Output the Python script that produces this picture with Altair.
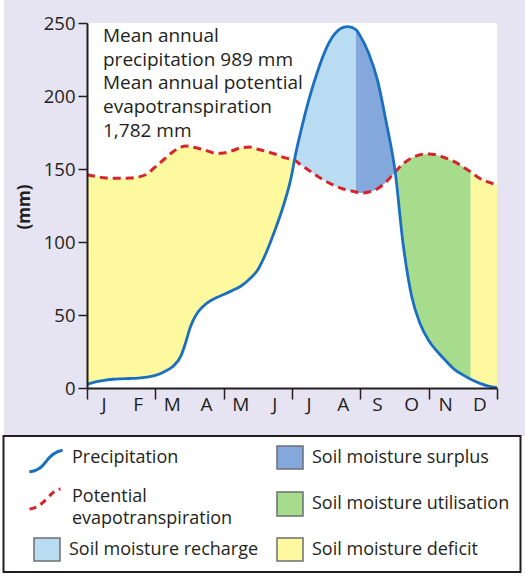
import altair as alt
import pandas as pd

# ---- data -------------------------------------------------------------
MONTH_LABELS = ["J", "F", "M", "A", "M", "J", "J", "A", "S", "O", "N", "D"]

# position along the year in months (0 = start of January, 12 = end of December)
MONTH_POS = [0, 0.25, 0.5, 0.75, 1, 1.25, 1.5, 1.75, 2, 2.25, 2.5, 2.75, 2.9, 3, 3.1,
             3.25, 3.5, 3.75, 4, 4.25, 4.5, 4.75, 5, 5.25, 5.5, 5.75, 6, 6.07, 6.25,
             6.5, 6.75, 7, 7.25, 7.5, 7.64, 7.87, 8, 8.25, 8.5, 8.75, 9.02, 9.25, 9.5,
             9.75, 10, 10.25, 10.5, 10.75, 11, 11.23, 11.5, 11.75, 12]

# precipitation (mm)
PRECIP = [2.5, 4.2, 5.3, 6.0, 6.3, 6.5, 6.8, 7.5, 8.6, 11, 14.5, 22, 32, 40, 46,
          52, 58, 61.5, 64, 66.7, 69.7, 74.5, 81, 93, 108, 125, 147, 156, 175,
          198, 217, 232.5, 242.5, 247, 247.5, 245.5, 241, 229, 211, 183, 148, 99, 63,
          44, 32.5, 25, 18.7, 12.8, 9, 6, 3.2, 1.3, 0.3]

# potential evapotranspiration (mm)
PET = [146, 145, 144, 143.7, 143.6, 143.8, 144.5, 146.5, 151.5, 156.5, 161.5, 165, 165.8, 165.5, 165,
       164.2, 162.6, 160.8, 161, 162.5, 164.5, 165, 163.5, 162, 160.3, 158, 156.5, 156, 153,
       149, 145, 141.5, 138.5, 136.3, 135.5, 134.3, 133.5, 134.3, 136.5, 141, 148, 153.5, 157.5,
       159.8, 160.3, 159.5, 157.5, 155, 151.5, 148, 143.5, 141, 139]

# where each soil-moisture phase begins (months)
RECHARGE_START = 6.07
SURPLUS_START = 7.87
UTILISATION_START = 9.02
DEFICIT_START = 11.23

NOTE_LINES = ["Mean annual", "precipitation 989 mm", "Mean annual potential",
              "evapotranspiration", "1,782 mm"]

Y_TICKS = [0, 50, 100, 150, 200, 250]

# ---- styling ----------------------------------------------------------
FONT = "Open Sans"
INK = "#231f20"
LAVENDER = "#e6e3f2"
YELLOW = "#fef99e"
LIGHT_BLUE = "#b9dcf3"
DARK_BLUE = "#84a8dc"
GREEN = "#a6dc8c"
LINE_BLUE = "#1b6fc0"
PET_RED = "#d8232c"

W, H = 410, 365

df = pd.DataFrame({"month": MONTH_POS, "precip": PRECIP, "pet": PET})
months_df = pd.DataFrame({"label": MONTH_LABELS,
                          "mid": [i + 0.5 for i in range(len(MONTH_LABELS))]})
one = alt.Data(values=[{}])

x_scale = alt.Scale(domain=[0, 12], nice=False, zero=False)
x_enc = alt.X(
    "month:Q", scale=x_scale,
    axis=alt.Axis(
        values=list(range(13)), labels=False, zindex=1,
        tickSize=11, tickWidth=1.5, tickColor=INK,
        domainColor=INK, domainWidth=2, grid=False, title=None,
    ),
)
y_axis = alt.Axis(
    values=Y_TICKS, labelFont=FONT, labelFontSize=18.5, labelColor=INK, zindex=1,
    labelPadding=3, tickSize=9, tickWidth=1.5, tickColor=INK,
    domainColor=INK, domainWidth=2, grid=False, title=None,
)
y_scale = alt.Scale(domain=[0, 250], nice=False)

base = alt.Chart(df)


def phase(lo, hi, color):
    """Fill between the two curves over one soil-moisture phase."""
    return (
        base.transform_filter((alt.datum.month >= lo) & (alt.datum.month <= hi))
        .mark_area(interpolate="monotone", color=color, opacity=1)
        .encode(x=x_enc, y=alt.Y("precip:Q", scale=y_scale, axis=y_axis), y2="pet:Q")
    )


def box(x1, x2, y1, y2, fill, stroke=None, width=0):
    kw = dict(fill=fill)
    if stroke:
        kw.update(stroke=stroke, strokeWidth=width)
    return alt.Chart(one).mark_rect(**kw).encode(
        x=alt.value(x1), x2=alt.value(x2), y=alt.value(y1), y2=alt.value(y2)
    )


def label(text, x, y, size=18, baseline="middle", **kw):
    return alt.Chart(one).mark_text(
        align="left", baseline=baseline, font=FONT, fontSize=size, color=INK, **kw
    ).encode(x=alt.value(x), y=alt.value(y), text=alt.value(text))


# backgrounds
panel = box(-83, 438, -23, 413, LAVENDER)
plot_bg = box(0, W, 0, H, "white")

areas = [
    phase(0, RECHARGE_START, YELLOW),
    phase(RECHARGE_START, SURPLUS_START, LIGHT_BLUE),
    phase(SURPLUS_START, UTILISATION_START, DARK_BLUE),
    phase(UTILISATION_START, DEFICIT_START, GREEN),
    phase(DEFICIT_START, 12, YELLOW),
]

pet_line = base.mark_line(
    interpolate="monotone", color=PET_RED, strokeWidth=3, strokeDash=[8, 5]
).encode(x=x_enc, y=alt.Y("pet:Q", scale=y_scale, axis=y_axis))

precip_line = base.mark_line(
    interpolate="monotone", color=LINE_BLUE, strokeWidth=2.8
).encode(x=x_enc, y=alt.Y("precip:Q", scale=y_scale, axis=y_axis))

month_text = alt.Chart(months_df).mark_text(
    font=FONT, fontSize=19, color=INK, align="center", baseline="middle"
).encode(x=alt.X("mid:Q", scale=x_scale), y=alt.value(H + 17), text="label:N")

y_title = alt.Chart(one).mark_text(
    font=FONT, fontSize=17, fontWeight="bold", color=INK, angle=270,
    align="center", baseline="middle",
).encode(x=alt.value(-62), y=alt.value(184), text=alt.value("(mm)"))

note = alt.Chart(one).mark_text(
    align="left", baseline="alphabetic", font=FONT, fontSize=19, color=INK,
    lineHeight=23.7,
).encode(x=alt.value(16), y=alt.value(19), text=alt.value(NOTE_LINES))

# legend
legend_frame = box(-83.5, 433.5, 413, 549, "white", INK, 2)

rain_glyph = alt.Chart(one).mark_point(
    shape="M -1 0.65 C -0.55 0.62 -0.3 0.45 -0.05 0.1 S 0.6 -0.6 1 -0.65",
    size=1100, filled=False, stroke=LINE_BLUE, strokeWidth=3, opacity=1,
).encode(x=alt.value(-41), y=alt.value(438))

pet_glyph = alt.Chart(one).mark_point(
    shape="M -1 0.65 C -0.5 0.6 -0.2 0.3 0.1 0 S 0.6 -0.6 1 -0.65",
    size=960, filled=False, stroke=PET_RED, strokeWidth=3, strokeDash=[7, 5], opacity=1,
).encode(x=alt.value(-42), y=alt.value(476))

swatch_stroke = "#6d6e71"
legend = [
    legend_frame,
    rain_glyph,
    label("Precipitation", -15, 435),
    pet_glyph,
    label(["Potential", "evapotranspiration"], -15, 479, baseline="alphabetic",
          lineHeight=22),
    box(-53, -27, 515, 538, LIGHT_BLUE, swatch_stroke, 1.5),
    label("Soil moisture recharge", -18, 527),
    box(190, 216, 423, 446, DARK_BLUE, swatch_stroke, 1.5),
    label("Soil moisture surplus", 225, 435),
    box(190, 216, 469, 493, GREEN, swatch_stroke, 1.5),
    label("Soil moisture utilisation", 225, 481),
    box(190, 216, 515, 538, YELLOW, swatch_stroke, 1.5),
    label("Soil moisture deficit", 225, 527),
]

chart = (
    alt.layer(panel, plot_bg, *areas, pet_line, precip_line, month_text,
              y_title, note, *legend)
    .properties(
        width=W, height=H,
        autosize=alt.AutoSizeParams(type="none"),
        padding={"left": 87, "top": 23, "right": 28, "bottom": 192},
        background="white",
    )
    .configure_view(stroke=None)
)

chart.save("out.html", embed_options={"renderer": "svg", "actions": False})
